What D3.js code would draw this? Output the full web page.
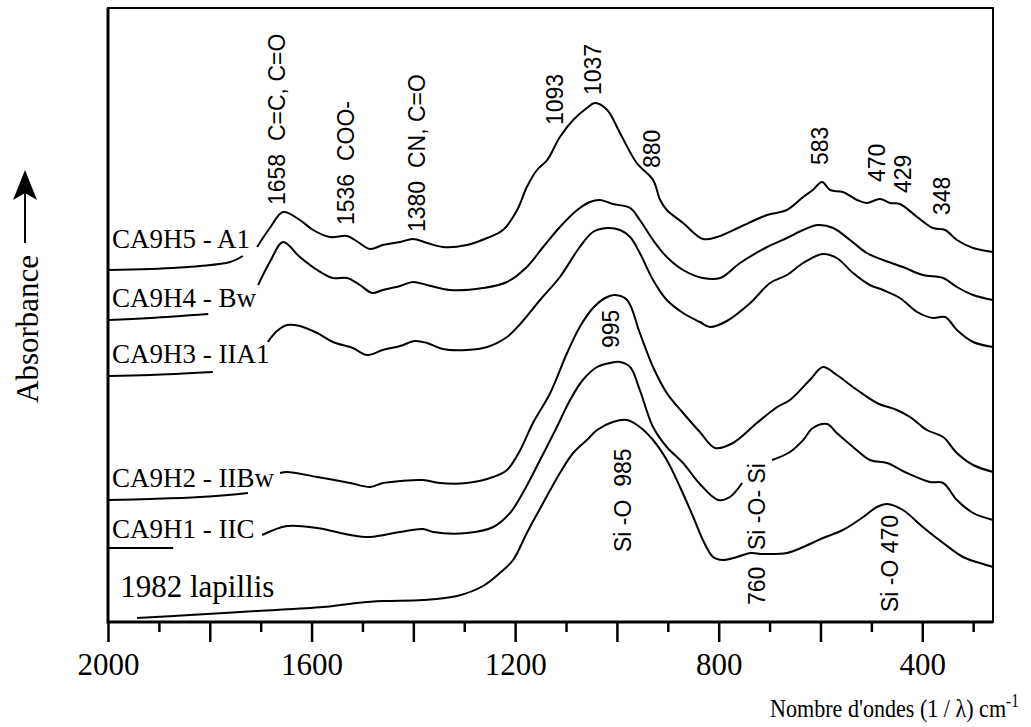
<!DOCTYPE html>
<html>
<head>
<meta charset="utf-8">
<script src="https://cdn.jsdelivr.net/npm/d3@7"></script>
<style>
  body { margin: 0; background: #fff; }
  svg { display: block; }
</style>
</head>
<body>
<div id="chart"></div>
<script>
// IR spectra of the CA9 soil profile, stacked, arbitrary absorbance units
// [wavenumber cm-1, absorbance]; null = break where the sample label sits

const cA1 = [[2000,3.52],[1917,3.53],[1819,3.56],[1760,3.60],[1735,3.66],null,[1707,3.75],[1682,3.94],[1656,4.10],
  [1623,4.02],[1597,3.92],[1564,3.85],[1530,3.86],[1509,3.80],[1485,3.73],[1460,3.77],[1426,3.80],[1401,3.83],
  [1373,3.79],[1342,3.75],[1295,3.77],[1255,3.84],[1224,3.92],[1196,4.12],[1177,4.35],[1157,4.52],[1137,4.62],
  [1112,4.85],[1086,5.02],[1059,5.14],[1043,5.19],[1019,5.12],[994,4.89],[961,4.59],[929,4.42],[915,4.22],
  [902,4.12],[870,3.99],[831,3.83],[803,3.85],[758,3.95],[705,4.07],[666,4.12],[634,4.25],[615,4.32],[597,4.40],
  [581,4.32],[556,4.30],[528,4.22],[509,4.19],[483,4.23],[463,4.19],[444,4.18],[410,4.05],[379,3.94],[355,3.92],
  [332,3.82],[300,3.74],[261,3.70]];

const cBw = [[2000,3.02],[1917,3.04],[1803,3.08],null,[1705,3.37],[1682,3.60],[1656,3.80],[1623,3.65],[1589,3.52],
  [1558,3.44],[1530,3.44],[1505,3.37],[1481,3.29],[1460,3.32],[1426,3.36],[1401,3.40],[1373,3.37],[1328,3.32],
  [1263,3.34],[1216,3.40],[1177,3.55],[1145,3.75],[1112,3.95],[1078,4.12],[1053,4.20],[1033,4.22],[1008,4.18],
  [974,4.14],[955,4.02],[929,3.82],[902,3.65],[870,3.52],[831,3.44],[797,3.44],[758,3.59],[705,3.75],[666,3.84],
  [634,3.92],[605,3.97],[575,3.94],[542,3.82],[509,3.69],[477,3.62],[438,3.55],[399,3.47],[359,3.44],[332,3.35],
  [300,3.27],[261,3.22]];

const cIIA1 = [[2000,2.46],[1917,2.47],[1794,2.50],null,[1686,2.80],[1668,2.91],[1648,2.97],[1623,2.96],[1589,2.89],
  [1558,2.80],[1519,2.74],[1491,2.67],[1460,2.72],[1426,2.76],[1397,2.81],[1373,2.79],[1342,2.73],[1295,2.72],
  [1255,2.75],[1216,2.85],[1190,2.98],[1151,3.22],[1112,3.45],[1073,3.75],[1047,3.90],[1019,3.94],[994,3.92],
  [974,3.85],[955,3.69],[929,3.42],[902,3.22],[870,3.09],[837,3.00],[817,2.95],[784,3.01],[738,3.19],[699,3.39],
  [666,3.47],[634,3.59],[595,3.68],[568,3.64],[536,3.49],[503,3.37],[477,3.32],[444,3.24],[410,3.10],[379,3.04],
  [355,3.05],[332,2.92],[300,2.80],[261,2.75]];

const cIIBw = [[2000,1.22],[1917,1.23],[1819,1.25],[1725,1.29],null,[1662,1.49],[1648,1.50],[1589,1.45],[1524,1.39],
  [1485,1.35],[1460,1.39],[1426,1.41],[1381,1.42],[1348,1.39],[1295,1.39],[1243,1.45],[1216,1.52],[1190,1.72],
  [1165,1.99],[1131,2.29],[1098,2.69],[1073,2.95],[1047,3.14],[1023,3.24],[1004,3.27],[980,3.22],[955,2.89],
  [929,2.55],[902,2.29],[870,2.09],[837,1.90],[807,1.74],[772,1.79],[725,1.99],[685,2.15],[660,2.22],[621,2.42],
  [595,2.55],[568,2.47],[528,2.32],[489,2.19],[450,2.12],[424,2.05],[391,1.92],[359,1.85],[332,1.69],[300,1.57],
  [261,1.50]];

const cIIC = [[2000,0.74],[1872,0.74],null,[1697,0.87],[1648,0.96],[1589,0.94],[1524,0.87],[1485,0.85],[1426,0.90],
  [1381,0.93],[1361,0.90],[1295,0.89],[1243,0.95],[1210,1.09],[1185,1.29],[1151,1.62],[1118,1.95],[1092,2.22],
  [1067,2.42],[1039,2.55],[1014,2.59],[994,2.60],[974,2.55],[955,2.32],[929,1.95],[902,1.75],[870,1.59],
  [837,1.38],[801,1.22],[778,1.25],[754,1.39],null,[695,1.62],[660,1.70],[634,1.82],[615,1.94],[587,1.98],
  [568,1.89],[536,1.75],[503,1.62],[469,1.59],[430,1.49],[385,1.40],[359,1.39],[332,1.22],[300,1.09],[261,1.02]];

const cLapilli = [[1943,0.04],[1839,0.07],[1707,0.11],[1578,0.15],[1511,0.19],[1460,0.21],[1381,0.22],[1314,0.26],
  [1263,0.36],[1230,0.49],[1204,0.62],[1177,0.89],[1145,1.19],[1112,1.49],[1086,1.69],[1059,1.82],[1039,1.92],
  [1008,2.00],[980,2.02],[955,1.95],[929,1.82],[902,1.62],[876,1.35],[850,1.05],[831,0.82],[811,0.65],[792,0.62],
  [764,0.65],[738,0.69],[713,0.68],[666,0.69],[634,0.75],[595,0.84],[556,0.92],[516,1.05],[489,1.15],[469,1.18],
  [438,1.12],[399,0.95],[359,0.79],[320,0.65],[287,0.59],[261,0.55]];

const spectra = [cA1, cBw, cIIA1, cIIBw, cIIC, cLapilli];
const sampleNames = ["CA9H5 - A1", "CA9H4 - Bw", "CA9H3 - IIA1", "CA9H2 - IIBw", "CA9H1 - IIC", "1982 lapillis"];
const sampleLabelAt = [[1992,3.74],[1992,3.15],[1992,2.59],[1992,1.35],[1992,0.84],[1976,0.25]];

// band assignments: text, [wavenumber, absorbance] of the label foot
const bandNames = ["1658  C=C, C=O", "1536  COO-", "1380  CN, C=O", "1093", "1037", "880", "583", "470", "429", "348",
  "995", "Si -O  985", "Si -O- Si", "760", "Si -O 470"];
const bandAt = [[1668,4.17],[1532,3.97],[1393,3.90],[1122,4.97],[1047,5.27],[931,4.54],[601,4.57],[489,4.40],[438,4.29],
  [361,4.07],[1012,2.74],[988,0.70],[725,0.72],[725,0.17],[463,0.10]];

const majorTicks = d3.range(2000, 399, -200);
const minorTicks = d3.range(1900, 299, -200);
const tickLabels = [2000, 1600, 1200, 800, 400];

const width = 1031, height = 727;
const serif = "'Liberation Serif', 'Times New Roman', serif";
const sans = "'Liberation Sans', Arial, sans-serif";

const svg = d3.select("#chart").append("svg")
    .attr("width", width)
    .attr("height", height);

const x = d3.scaleLinear().domain([2000, 261]).range([108, 993]);
const y = d3.scaleLinear().domain([0, 6.14]).range([622, 8]);

//frame
svg.append("rect")
    .attr("x", x(2000)).attr("y", y(6.14))
    .attr("width", x(261) - x(2000)).attr("height", y(0) - y(6.14))
    .attr("fill", "none").attr("stroke", "#000").attr("stroke-width", 2);
svg.append("path")
    .attr("d", `M${x(2000)},${y(6.14)}V${y(0)}H${x(261)}`)
    .attr("fill", "none").attr("stroke", "#000").attr("stroke-width", 3);

//x axis, long ticks every 200, short every 100
const xMajor = svg.append("g")
    .attr("transform", `translate(0,${y(0)})`)
    .call(d3.axisBottom(x).tickValues(majorTicks).tickSize(20)
        .tickFormat(d => tickLabels.includes(d) ? d : ""));
const xMinor = svg.append("g")
    .attr("transform", `translate(0,${y(0)})`)
    .call(d3.axisBottom(x).tickValues(minorTicks).tickSize(10).tickFormat(""));

[xMajor, xMinor].forEach(g => {
    g.select(".domain").remove();
    g.selectAll(".tick line").attr("stroke", "#000").attr("stroke-width", 2.5);
});
xMajor.selectAll(".tick text")
    .attr("y", 53).attr("dy", 0)
    .attr("fill", "#000")
    .style("font-family", serif)
    .style("font-size", "31px");

//spectra
const line = d3.line()
    .defined(d => d !== null)
    .x(d => x(d[0]))
    .y(d => y(d[1]))
    .curve(d3.curveCatmullRom.alpha(0.5));

svg.selectAll(".spectrum")
    .data(spectra)
    .enter()
    .append("path")
    .attr("class", "spectrum")
    .attr("d", line)
    .attr("fill", "none")
    .attr("stroke", "#000")
    .attr("stroke-width", 2);

//sample labels
svg.selectAll(".sample")
    .data(sampleNames)
    .enter()
    .append("text")
    .attr("class", "sample")
    .attr("x", (d, i) => x(sampleLabelAt[i][0]))
    .attr("y", (d, i) => y(sampleLabelAt[i][1]))
    .text(d => d)
    .style("font-family", serif)
    .style("font-size", (d, i) => i === 5 ? "31px" : "27px");

//band labels, rotated
svg.selectAll(".band")
    .data(bandNames)
    .enter()
    .append("text")
    .attr("class", "band")
    .attr("transform", (d, i) => `translate(${x(bandAt[i][0])},${y(bandAt[i][1])}) rotate(-90)`)
    .attr("dy", "0.35em")
    .style("white-space", "pre")
    .style("font-family", sans)
    .style("font-size", "23px")
    .text(d => d);

//axis titles
svg.append("text")
    .attr("transform", "translate(27,403) rotate(-90)")
    .attr("dy", "0.35em")
    .style("font-family", serif)
    .style("font-size", "31px")
    .text("Absorbance");
svg.append("line")
    .attr("x1", 25).attr("x2", 25).attr("y1", 243).attr("y2", 185)
    .attr("stroke", "#000").attr("stroke-width", 2);
svg.append("path")
    .attr("d", "M25,170 L37,200 L25,193 L13,200 Z")
    .attr("fill", "#000");

//x title is set a little condensed, as in the print
const xTitle = svg.append("text")
    .attr("transform", "translate(770,717) scale(0.85,1)")
    .style("font-family", serif)
    .style("font-size", "26px");
xTitle.append("tspan").text("Nombre d'ondes (1 / λ) cm");
xTitle.append("tspan")
    .attr("dy", -10)
    .style("font-size", "18px")
    .text("-1");
</script>
</body>
</html>
